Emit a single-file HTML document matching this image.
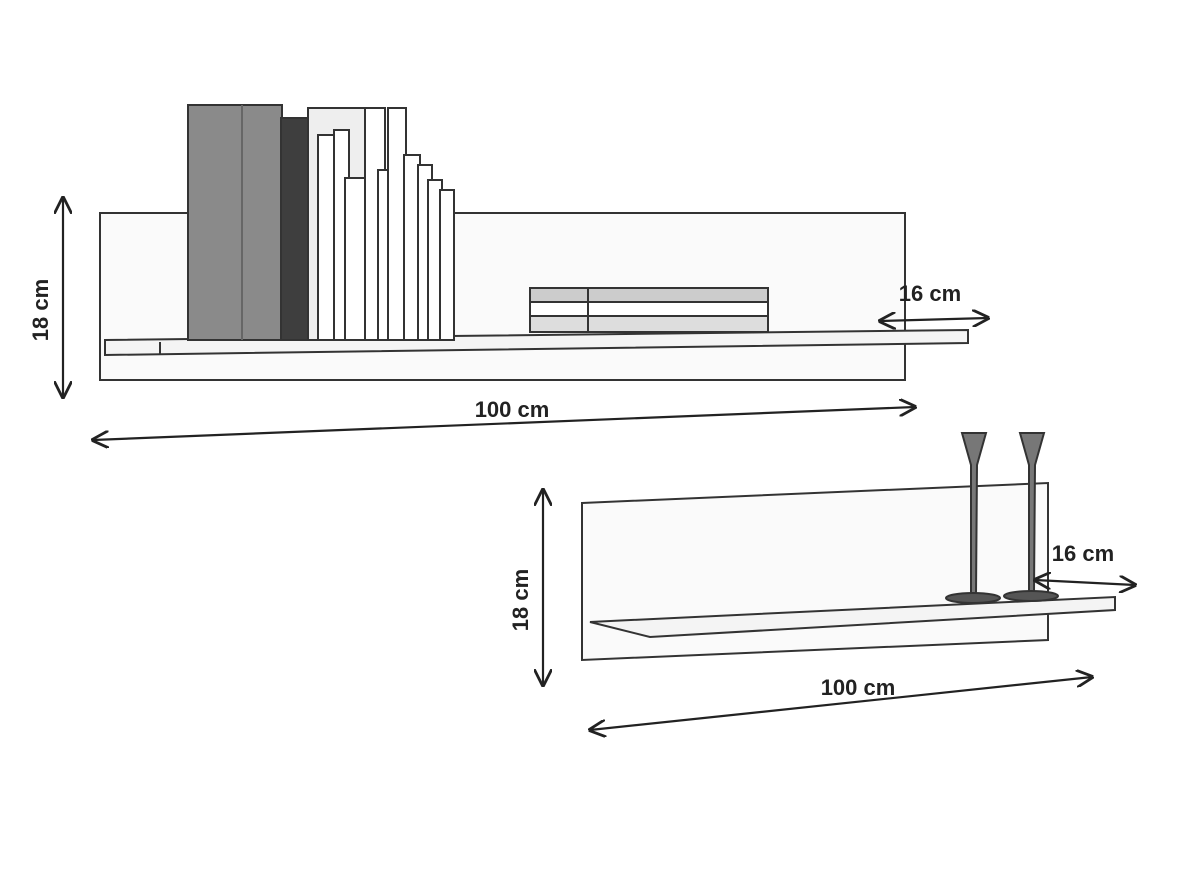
<!DOCTYPE html>
<html><head><meta charset="utf-8"><style>
html,body{margin:0;padding:0;background:#fff;}
svg{display:block}
text{font-family:"Liberation Sans",sans-serif;font-weight:bold;fill:#222}
</style></head><body>
<svg width="1200" height="878" viewBox="0 0 1200 878" xmlns="http://www.w3.org/2000/svg">
<defs>
<marker id="a" viewBox="0 0 10 10" refX="9" refY="5" markerWidth="8" markerHeight="8" orient="auto-start-reverse"><path d="M0,0 L10,5 L0,10" fill="none" stroke="#222" stroke-width="1.6"/></marker>
</defs>
<g stroke="#333" stroke-width="2" fill="none">
<!-- top shelf -->
<rect x="100" y="213" width="805" height="167" fill="#fafafa"/>
<polygon points="105,340 968,330 968,343 105,355" fill="#f4f4f4"/>
<line x1="160" y1="342" x2="160" y2="355"/>
<!-- books -->
<rect x="188" y="105" width="94" height="235" fill="#8a8a8a"/>
<line x1="242" y1="105" x2="242" y2="340" stroke="#666"/>
<rect x="281" y="118" width="37" height="222" fill="#3e3e3e"/>
<rect x="308" y="108" width="65" height="232" fill="#eee"/>
<rect x="318" y="135" width="16" height="205" fill="#fff"/>
<rect x="334" y="130" width="15" height="210" fill="#fff"/>
<rect x="345" y="178" width="22" height="162" fill="#fff"/>
<rect x="365" y="108" width="20" height="232" fill="#fff"/>
<rect x="378" y="170" width="20" height="170" fill="#fff"/>
<rect x="388" y="108" width="18" height="232" fill="#fff"/>
<rect x="404" y="155" width="16" height="185" fill="#fff"/>
<rect x="418" y="165" width="14" height="175" fill="#fff"/>
<rect x="428" y="180" width="14" height="160" fill="#fff"/>
<rect x="440" y="190" width="14" height="150" fill="#fff"/>
<!-- horizontal books -->
<rect x="530" y="288" width="238" height="14" fill="#ccc"/>
<rect x="530" y="302" width="238" height="14" fill="#fff"/>
<rect x="530" y="316" width="238" height="16" fill="#ddd"/>
<line x1="588" y1="288" x2="588" y2="332"/>
<!-- bottom shelf -->
<polygon points="582,503 1048,483 1048,640 582,660" fill="#fafafa"/>
<polygon points="590,622 1115,597 1115,610 650,637" fill="#f4f4f4"/>
<!-- candles -->
<path d="M962,433 L986,433 L977,465 L976,595 L971,595 L971,465 Z" fill="#777"/>
<ellipse cx="973" cy="598" rx="27" ry="5" fill="#555"/>
<path d="M1020,433 L1044,433 L1035,465 L1034,592 L1029,592 L1029,465 Z" fill="#777"/>
<ellipse cx="1031" cy="596" rx="27" ry="5" fill="#555"/>
</g>
<g stroke="#222" stroke-width="2.2" fill="none" marker-start="url(#a)" marker-end="url(#a)">
<line x1="63" y1="198" x2="63" y2="397"/>
<line x1="93" y1="440" x2="915" y2="407"/>
<line x1="880" y1="321" x2="988" y2="318"/>
<line x1="543" y1="490" x2="543" y2="685"/>
<line x1="590" y1="730" x2="1092" y2="677"/>
<line x1="1035" y1="580" x2="1135" y2="585"/>
</g>
<text x="512" y="417" font-size="22" text-anchor="middle">100 cm</text>
<text x="930" y="301" font-size="22" text-anchor="middle">16 cm</text>
<text transform="translate(48,310) rotate(-90)" font-size="22" text-anchor="middle">18 cm</text>
<text x="858" y="695" font-size="22" text-anchor="middle">100 cm</text>
<text x="1083" y="561" font-size="22" text-anchor="middle">16 cm</text>
<text transform="translate(528,600) rotate(-90)" font-size="22" text-anchor="middle">18 cm</text>
</svg>
</body></html>
